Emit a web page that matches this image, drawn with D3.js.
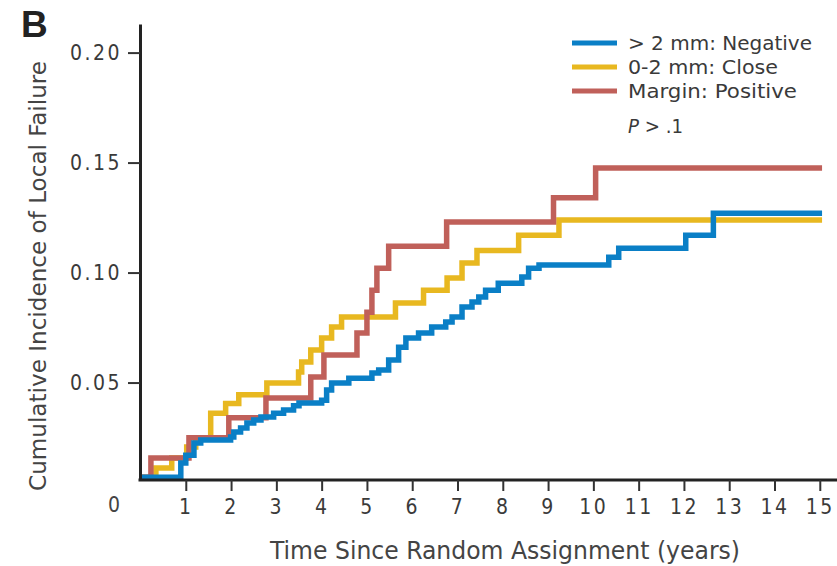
<!DOCTYPE html>
<html>
<head>
<meta charset="utf-8">
<script src="https://cdn.jsdelivr.net/npm/d3@7/dist/d3.min.js"></script>
<style>
  body { margin: 0; background: #fff; }
  svg { display: block; }
  text { font-family: "Liberation Sans Narrow", "DejaVu Sans Condensed", sans-serif; fill: #3a3a3a; }
</style>
</head>
<body>
<div id="chart"></div>
<script>
// step curves, [years, cumulative incidence]
const negative = [[0,0.007],[0.89,0.0134],[1.0,0.017],[1.18,0.0225],[1.33,0.0239],[1.99,0.0252],[2.06,0.0275],[2.21,0.0293],[2.35,0.0316],[2.5,0.033],[2.66,0.0343],[2.94,0.0361],[3.16,0.0375],[3.38,0.0395],[3.5,0.0407],[4.0,0.042],[4.11,0.0466],[4.22,0.0498],[4.6,0.052],[5.11,0.0543],[5.26,0.0557],[5.48,0.0602],[5.7,0.0661],[5.86,0.0702],[6.14,0.0725],[6.43,0.0752],[6.74,0.0775],[6.88,0.0798],[7.1,0.0843],[7.32,0.0866],[7.47,0.0889],[7.62,0.092],[7.9,0.0952],[8.42,0.098],[8.57,0.102],[8.8,0.1034],[10.34,0.107],[10.56,0.1111],[12.04,0.117],[12.65,0.127],[15.05,0.127]];
const close = [[0,0.007],[0.34,0.0112],[0.69,0.0157],[1.02,0.0207],[1.22,0.0248],[1.55,0.036],[1.88,0.0405],[2.17,0.0445],[2.79,0.0498],[3.49,0.0548],[3.56,0.0593],[3.76,0.0648],[4.0,0.0702],[4.22,0.0752],[4.44,0.0798],[5.63,0.0862],[6.25,0.092],[6.77,0.0975],[7.1,0.1043],[7.43,0.110],[8.35,0.117],[9.24,0.1239],[15.05,0.1239]];
const positive = [[0,0.007],[0.23,0.0157],[1.07,0.0249],[1.95,0.034],[2.77,0.043],[3.76,0.0525],[4.05,0.0625],[4.78,0.0725],[5.0,0.082],[5.11,0.092],[5.22,0.102],[5.48,0.112],[6.76,0.123],[9.12,0.134],[10.05,0.1475],[15.05,0.1475]];

const seriesNames = ["> 2 mm: Negative", "0-2 mm: Close", "Margin: Positive"];
const seriesColors = ["#0a7fc6", "#e8b820", "#c0605a"];
const xTicks = [1,2,3,4,5,6,7,8,9,10,11,12,13,14,15];
const yTicks = [0.05, 0.10, 0.15, 0.20];

const width = 837, height = 566;
const svg = d3.select("#chart").append("svg").attr("width", width).attr("height", height);

const x = d3.scaleLinear().domain([0, 15.38]).range([140.5, 837]);
const y = d3.scaleLinear().domain([0.0057, 0.213]).range([480, 24]);

// panel letter
svg.append("text").attr("x", 21).attr("y", 37)
  .style("font-family", "'Liberation Sans', Arial, sans-serif")
  .style("font-weight", "bold").style("font-size", "37px").style("fill", "#222")
  .text("B");

// curves (yellow, red, blue on top)
const line = d3.line().x(d => x(d[0])).y(d => y(d[1])).curve(d3.curveStepAfter);
const order = [[close, 1], [positive, 2], [negative, 0]];
order.forEach(([data, i]) => {
  svg.append("path").datum(data)
    .attr("d", line)
    .attr("fill", "none")
    .attr("stroke", seriesColors[i])
    .attr("stroke-width", 5.5);
});

// axes
const yAxis = svg.append("g").attr("transform", "translate(140,0)")
  .call(d3.axisLeft(y).tickValues(yTicks).tickFormat(d3.format(".2f")).tickSize(12).tickSizeOuter(0).tickPadding(6));
const xAxis = svg.append("g").attr("transform", "translate(0,480)")
  .call(d3.axisBottom(x).tickValues(xTicks).tickFormat(d3.format("d")).tickSize(11).tickSizeOuter(0).tickPadding(8));

[yAxis, xAxis].forEach(g => {
  g.select(".domain").attr("stroke", "#222").attr("stroke-width", 3);
  g.selectAll(".tick line").attr("stroke", "#333").attr("stroke-width", 2);
  g.selectAll(".tick text").style("font-size", "21px").style("letter-spacing", "2.5px").attr("fill", "#444");
});
xAxis.select(".domain").attr("d", "M138.5,0H837");

svg.append("text").attr("x", 114).attr("y", 480 + 32).attr("text-anchor", "middle")
  .style("font-size", "21px").style("fill", "#444").text("0");

// axis titles
svg.append("text").attr("x", 505).attr("y", 559).attr("text-anchor", "middle")
  .attr("textLength", 470).attr("lengthAdjust", "spacingAndGlyphs")
  .style("font-size", "24px").style("fill", "#444").text("Time Since Random Assignment (years)");

svg.append("text").attr("transform", "translate(46,276) rotate(-90)").attr("text-anchor", "middle")
  .attr("textLength", 430).attr("lengthAdjust", "spacingAndGlyphs")
  .style("font-size", "23px").style("fill", "#444").text("Cumulative Incidence of Local Failure");

// legend
const legendWidths = [184, 150, 169];
const lg = svg.append("g").attr("transform", "translate(572,43)");
seriesNames.forEach((name, i) => {
  lg.append("line").attr("x1", 0).attr("x2", 45).attr("y1", i * 24).attr("y2", i * 24)
    .attr("stroke", seriesColors[i]).attr("stroke-width", 5);
  lg.append("text").attr("x", 56).attr("y", i * 24 + 7)
    .attr("textLength", legendWidths[i]).attr("lengthAdjust", "spacingAndGlyphs")
    .style("font-size", "19px").text(name);
});
const pt = lg.append("text").attr("x", 56).attr("y", 90).style("font-size", "19px")
  .attr("textLength", 55).attr("lengthAdjust", "spacingAndGlyphs");
pt.append("tspan").style("font-style", "italic").text("P");
pt.append("tspan").text(" > .1");
</script>
</body>
</html>
